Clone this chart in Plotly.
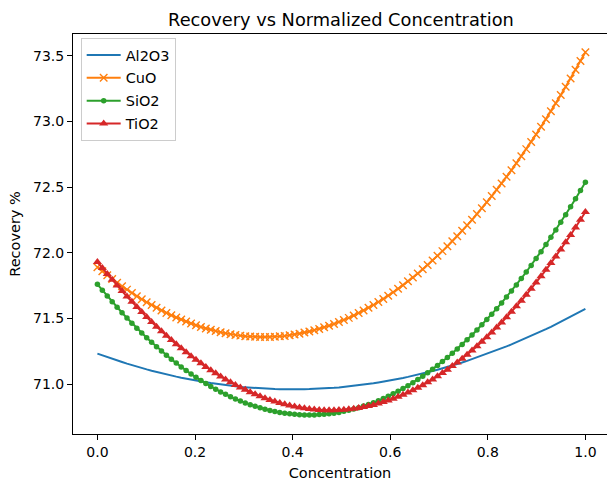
import numpy as np
import plotly.graph_objects as go

concentration = np.linspace(0, 1, 100)

al2o3 = [71.233, 71.219, 71.206, 71.193, 71.181, 71.169, 71.157, 71.145, 71.134, 71.123,
         71.113, 71.103, 71.093, 71.084, 71.075, 71.066, 71.058, 71.050, 71.042, 71.035,
         71.028, 71.021, 71.015, 71.009, 71.003, 70.998, 70.993, 70.989, 70.984, 70.980,
         70.977, 70.974, 70.971, 70.969, 70.966, 70.965, 70.963, 70.962, 70.961, 70.961,
         70.961, 70.961, 70.962, 70.963, 70.964, 70.966, 70.968, 70.970, 70.973, 70.976,
         70.980, 70.984, 70.988, 70.992, 70.997, 71.002, 71.008, 71.014, 71.020, 71.026,
         71.033, 71.040, 71.048, 71.056, 71.064, 71.073, 71.082, 71.091, 71.101, 71.111,
         71.121, 71.132, 71.143, 71.154, 71.166, 71.178, 71.191, 71.204, 71.217, 71.230,
         71.244, 71.258, 71.273, 71.288, 71.303, 71.319, 71.334, 71.351, 71.367, 71.384,
         71.402, 71.419, 71.437, 71.456, 71.474, 71.493, 71.513, 71.532, 71.553, 71.573]

cuo = [71.890, 71.859, 71.830, 71.801, 71.773, 71.746, 71.720, 71.695, 71.670, 71.647,
       71.624, 71.603, 71.582, 71.562, 71.543, 71.525, 71.508, 71.492, 71.477, 71.462,
       71.449, 71.436, 71.425, 71.414, 71.405, 71.396, 71.388, 71.381, 71.375, 71.370,
       71.366, 71.363, 71.361, 71.360, 71.360, 71.360, 71.362, 71.365, 71.368, 71.373,
       71.379, 71.385, 71.393, 71.401, 71.411, 71.421, 71.433, 71.445, 71.459, 71.473,
       71.489, 71.505, 71.523, 71.542, 71.561, 71.582, 71.603, 71.626, 71.649, 71.674,
       71.700, 71.726, 71.754, 71.783, 71.812, 71.843, 71.875, 71.908, 71.942, 71.977,
       72.013, 72.050, 72.088, 72.127, 72.168, 72.209, 72.251, 72.295, 72.340, 72.385,
       72.432, 72.480, 72.528, 72.578, 72.629, 72.682, 72.735, 72.789, 72.844, 72.901,
       72.959, 73.017, 73.077, 73.138, 73.200, 73.263, 73.327, 73.393, 73.459, 73.527]

sio2 = [71.760, 71.715, 71.671, 71.627, 71.585, 71.544, 71.504, 71.465, 71.427, 71.390,
        71.354, 71.319, 71.285, 71.253, 71.221, 71.190, 71.161, 71.132, 71.105, 71.078,
        71.053, 71.029, 71.005, 70.983, 70.962, 70.942, 70.923, 70.905, 70.888, 70.873,
        70.858, 70.845, 70.832, 70.821, 70.810, 70.801, 70.793, 70.786, 70.780, 70.775,
        70.771, 70.768, 70.767, 70.766, 70.767, 70.769, 70.771, 70.775, 70.780, 70.786,
        70.794, 70.802, 70.811, 70.822, 70.834, 70.846, 70.860, 70.875, 70.891, 70.909,
        70.927, 70.947, 70.967, 70.989, 71.012, 71.036, 71.061, 71.087, 71.115, 71.143,
        71.173, 71.204, 71.236, 71.269, 71.303, 71.339, 71.375, 71.413, 71.452, 71.492,
        71.533, 71.575, 71.619, 71.664, 71.709, 71.756, 71.805, 71.854, 71.904, 71.956,
        72.009, 72.063, 72.118, 72.174, 72.232, 72.290, 72.350, 72.411, 72.474, 72.537]

tio2 = [71.930, 71.884, 71.839, 71.795, 71.751, 71.709, 71.668, 71.627, 71.588, 71.549,
        71.511, 71.474, 71.438, 71.404, 71.370, 71.337, 71.304, 71.273, 71.243, 71.214,
        71.186, 71.159, 71.132, 71.107, 71.083, 71.059, 71.037, 71.016, 70.995, 70.976,
        70.958, 70.940, 70.924, 70.909, 70.894, 70.881, 70.869, 70.857, 70.847, 70.838,
        70.830, 70.823, 70.817, 70.812, 70.808, 70.805, 70.803, 70.802, 70.802, 70.804,
        70.806, 70.810, 70.814, 70.820, 70.827, 70.834, 70.843, 70.853, 70.865, 70.877,
        70.890, 70.905, 70.920, 70.937, 70.955, 70.973, 70.993, 71.015, 71.037, 71.060,
        71.085, 71.111, 71.138, 71.166, 71.195, 71.225, 71.257, 71.289, 71.323, 71.358,
        71.394, 71.432, 71.470, 71.510, 71.551, 71.593, 71.636, 71.681, 71.727, 71.774,
        71.822, 71.871, 71.922, 71.973, 72.026, 72.081, 72.136, 72.193, 72.251, 72.310]

series_names = ["Al2O3", "CuO", "SiO2", "TiO2"]
x_ticks = [0.0, 0.2, 0.4, 0.6, 0.8, 1.0]
y_ticks = [71.0, 71.5, 72.0, 72.5, 73.0, 73.5]

colors = ["#1f77b4", "#ff7f0e", "#2ca02c", "#d62728"]
fig = go.Figure()
fig.add_trace(go.Scatter(x=concentration, y=al2o3, name=series_names[0], mode="lines",
                         legendgroup="a", line=dict(color=colors[0], width=2)))
fig.add_trace(go.Scatter(x=concentration, y=cuo, name=series_names[1], mode="lines+markers",
                         legendgroup="b", line=dict(color=colors[1], width=2),
                         marker=dict(symbol="x-thin-open", size=7.5,
                                     line=dict(color=colors[1], width=1.4))))
fig.add_trace(go.Scatter(x=concentration, y=sio2, name=series_names[2], mode="lines+markers",
                         legendgroup="c", line=dict(color=colors[2], width=2),
                         marker=dict(symbol="circle", size=5.5, color=colors[2])))
fig.add_trace(go.Scatter(x=concentration, y=tio2, name=series_names[3], mode="lines+markers",
                         legendgroup="d", line=dict(color=colors[3], width=2),
                         marker=dict(symbol="triangle-up", size=8, color=colors[3])))

font = "DejaVu Sans"
fig.update_layout(
    width=607, height=481,
    margin=dict(l=73, r=0, t=34, b=47),
    paper_bgcolor="white", plot_bgcolor="white",
    font=dict(family=font, size=14.5, color="black"),
    title=dict(text="Recovery vs Normalized Concentration", x=341/607, xanchor="center",
               y=1 - 20/481, yanchor="middle", font=dict(size=17.8)),
    legend=dict(x=0.0144, y=0.99, xanchor="left", yanchor="top",
                bgcolor="rgba(255,255,255,0.8)", bordercolor="#cccccc", borderwidth=1,
                font=dict(size=14.5), tracegroupgap=1, traceorder="grouped", itemwidth=34),
    showlegend=True,
)
fig.update_xaxes(range=[-0.05, -0.05 + 534/488], showgrid=False, zeroline=False,
                 showline=True, linecolor="black", linewidth=1, mirror=True,
                 ticks="outside", ticklen=5, tickcolor="black", tickfont=dict(size=14),
                 tickvals=x_ticks, ticktext=[f"{v:.1f}" for v in x_ticks],
                 title=dict(text="Concentration", standoff=9, font=dict(size=14.5)))
fig.update_yaxes(range=[70.6215, 73.665], showgrid=False, zeroline=False,
                 showline=True, linecolor="black", linewidth=1, mirror=False,
                 ticks="outside", ticklen=5, tickcolor="black", tickfont=dict(size=14),
                 tickvals=y_ticks, ticktext=[f"{v:.1f}" for v in y_ticks],
                 title=dict(text="Recovery %", standoff=8, font=dict(size=14.5)))
fig.write_html("out.html")
